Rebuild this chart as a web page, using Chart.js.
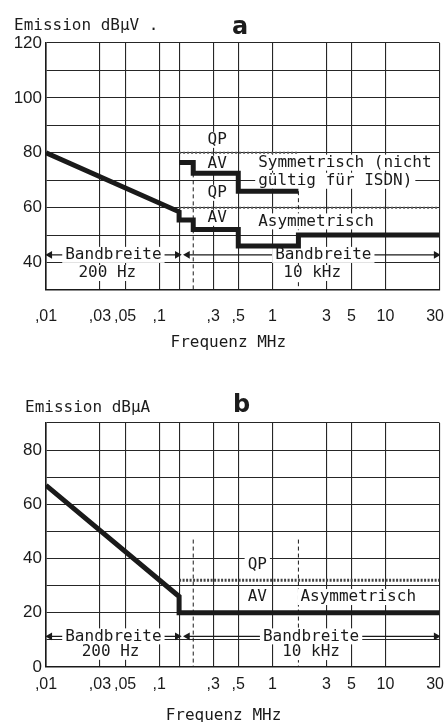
<!DOCTYPE html>
<html>
<head>
<meta charset="utf-8">
<script src="https://cdn.jsdelivr.net/npm/chart.js@4.4.0/dist/chart.umd.min.js"></script>
<style>
  body { margin: 0; width: 444px; height: 722px; overflow: hidden; background: #fff; position: relative; color: #1c1c1c; }
  .box { position: absolute; left: 0; width: 444px; }
  #boxA { top: 0; height: 360px; }
  #boxB { top: 360px; height: 370px; }
  .cap { position: absolute; font: 16px/20px "DejaVu Sans Mono", monospace; white-space: pre; }
  .big { position: absolute; font: bold 24px/26px "DejaVu Sans", sans-serif; }
</style>
</head>
<body>
<div class="box" id="boxA"><canvas id="chartA"></canvas></div>
<div class="box" id="boxB"><canvas id="chartB"></canvas></div>
<div class="cap" style="left:14px;top:15px">Emission dBµV .</div>
<div class="big" style="left:232px;top:13px">a</div>
<div class="cap" style="left:25px;top:397px">Emission dBµA</div>
<div class="big" style="left:233px;top:391px">b</div>
<script>
// Frequenzachse (MHz, logarithmisch)
const freqTicks  = [0.01, 0.03, 0.05, 0.1, 0.15, 0.3, 0.5, 1, 3, 5, 10, 30];
const freqLabels = [',01', ',03', ',05', ',1', '', ',3', ',5', '1', '3', '5', '10', '30  '];

// Bild a: Spannung dBµV
const aTicks = [30, 40, 50, 60, 70, 80, 90, 100, 110, 120];
const aAsymFreq = [0.01, 0.15, 0.15, 0.2, 0.2, 0.5, 0.5, 1.7, 1.7, 30];
const aAsymAV   = [80, 58.5, 55.5, 55.5, 52, 52, 46, 46, 50, 50];
const aSymFreq  = [0.15, 0.2, 0.2, 0.5, 0.5, 1.7];
const aSymAV    = [76.5, 76.5, 72.5, 72.5, 66, 66];
const aSymQPFreq  = [0.15, 1.7];
const aSymQP      = [80, 80];
const aAsymQPFreq = [0.15, 30];
const aAsymQP     = [60, 60];
const aMark1 = [72.5, 30];   // gestrichelt bei 0,2 MHz
const aMark2 = [66, 30];     // gestrichelt bei 1,7 MHz
const aBand  = 42.8;

// Bild b: Strom dBµA
const bTicks = [0, 10, 20, 30, 40, 50, 60, 70, 80, 90];
const bAsymFreq = [0.01, 0.15, 0.15, 30];
const bAsymAV   = [67, 26, 20, 20];
const bAsymQPFreq = [0.15, 30];
const bAsymQP     = [32, 32];
const bMark = [47, 0];
const bBand = 11.3;

const markFreq = [0.2, 1.7];
const bandLeft  = [0.0108, 0.1445];
const bandRight = [0.178, 28];

const aNotes = [
  { t: 'QP', x: 0.326, y: 84.7 },
  { t: 'AV', x: 0.326, y: 76 },
  { t: 'Symmetrisch (nicht', x: 0.75, y: 76.4, left: true },
  { t: 'gültig für ISDN)', x: 0.75, y: 69.8, left: true },
  { t: 'QP', x: 0.326, y: 65.4 },
  { t: 'AV', x: 0.326, y: 56.3 },
  { t: 'Asymmetrisch', x: 0.75, y: 55, left: true },
  { t: 'Bandbreite', x: 0.0394, y: aBand },
  { t: '200 Hz', x: 0.0348, y: 36.2 },
  { t: 'Bandbreite', x: 2.82, y: aBand },
  { t: '10 kHz', x: 2.25, y: 36.2 }
];
const bNotes = [
  { t: 'QP', x: 0.736, y: 37.6 },
  { t: 'AV', x: 0.736, y: 25.8 },
  { t: 'Asymmetrisch', x: 5.74, y: 25.8 },
  { t: 'Bandbreite', x: 0.0394, y: bBand },
  { t: '200 Hz', x: 0.0372, y: 5.6 },
  { t: 'Bandbreite', x: 2.2, y: bBand },
  { t: '10 kHz', x: 2.2, y: 5.5 }
];

const ink = '#1a1a1a';
const mono = '"DejaVu Sans Mono", monospace';

function pts(xs, ys) {
  return xs.map((x, i) => ({ x: x, y: ys[i] }));
}

function line(xs, ys, extra) {
  return Object.assign({
    data: pts(xs, ys),
    borderColor: ink, borderWidth: 1, pointRadius: 0, fill: false, tension: 0,
    borderJoinStyle: 'miter', borderCapStyle: 'butt', order: 1
  }, extra);
}

function arrow(xs, yv) {
  return line(xs, [yv, yv], {
    borderWidth: 1.2, pointRadius: 4.5, pointStyle: 'triangle',
    pointRotation: [-90, 90], pointBackgroundColor: ink, pointBorderWidth: 0
  });
}

// Beschriftungen mit weissem Hintergrund, über den dünnen Linien, unter den dicken
function notesPlugin(notes) {
  return {
    id: 'notes',
    beforeDatasetsDraw(chart) { chart.$notesDone = false; },
    beforeDatasetDraw(chart, args) {
      if (chart.$notesDone || !chart.data.datasets[args.index].thick) return;
      chart.$notesDone = true;
      const ctx = chart.ctx, x = chart.scales.x, y = chart.scales.y;
      ctx.save();
      ctx.font = '16px ' + mono;
      ctx.textBaseline = 'middle';
      const items = notes.map(n => {
        const w = ctx.measureText(n.t).width;
        const px = x.getPixelForValue(n.x);
        return { t: n.t, w: w, left: n.left ? px : px - w / 2, py: y.getPixelForValue(n.y) };
      });
      ctx.fillStyle = '#fff';
      items.forEach(it => ctx.fillRect(it.left - 3, it.py - 8, it.w + 6, 16));
      ctx.fillStyle = ink;
      items.forEach(it => ctx.fillText(it.t, it.left, it.py));
      ctx.restore();
    }
  };
}

function makeChart(id, o) {
  return new Chart(document.getElementById(id), {
    type: 'line',
    data: { datasets: o.datasets },
    plugins: [notesPlugin(o.notes)],
    options: {
      responsive: true,
      maintainAspectRatio: false,
      animation: false,
      events: [],
      layout: { padding: { top: o.padTop, right: 4, left: 0, bottom: 0 } },
      plugins: { legend: { display: false }, tooltip: { enabled: false } },
      scales: {
        x: {
          type: 'logarithmic', min: 0.01, max: 30,
          afterBuildTicks: s => { s.ticks = freqTicks.map(v => ({ value: v })); },
          afterFit: s => { s.height = o.xHeight; s.paddingLeft = 0; s.paddingRight = 0; },
          ticks: {
            autoSkip: false, maxRotation: 0, padding: o.tickPad, color: ink,
            font: { family: '"Liberation Sans", Arial, sans-serif', size: 16 },
            callback: (v, i) => freqLabels[i]
          },
          grid: { color: '#262626', lineWidth: 1.1, drawTicks: false },
          border: { color: ink, width: 1.6 },
          title: {
            display: true, text: o.xTitle, color: ink,
            font: { family: mono, size: 16 }, padding: { top: 0, bottom: o.titlePad }
          }
        },
        y: {
          min: o.yTicks[0], max: o.yTicks[o.yTicks.length - 1],
          afterBuildTicks: s => { s.ticks = o.yTicks.map(v => ({ value: v })); },
          afterFit: s => { s.width = 46; s.paddingTop = 0; s.paddingBottom = 0; },
          ticks: {
            padding: 4, color: ink,
            font: { family: '"Liberation Sans", Arial, sans-serif', size: 17 },
            callback: v => (v % 20 === 0 ? String(v) : '')
          },
          grid: { color: '#262626', lineWidth: 1.1, drawTicks: false },
          border: { color: ink, width: 1.6 }
        }
      }
    }
  });
}

makeChart('chartA', {
  padTop: 43, xHeight: 70, tickPad: 17, titlePad: 8,
  xTitle: 'Frequenz MHz   ',
  yTicks: aTicks,
  notes: aNotes,
  datasets: [
    line(aSymQPFreq, aSymQP, { borderWidth: 2, borderDash: [2, 2], borderColor: '#555' }),
    line(aAsymQPFreq, aAsymQP, { borderWidth: 2, borderDash: [2, 2], borderColor: '#555' }),
    line([markFreq[0], markFreq[0]], aMark1, { borderDash: [4, 3] }),
    line([markFreq[1], markFreq[1]], aMark2, { borderDash: [4, 3] }),
    arrow(bandLeft, aBand),
    arrow(bandRight, aBand),
    line(aSymFreq, aSymAV, { borderWidth: 5, order: 0, thick: true }),
    line(aAsymFreq, aAsymAV, { borderWidth: 5, order: 0, thick: true })
  ]
});

makeChart('chartB', {
  padTop: 63, xHeight: 63, tickPad: 8, titlePad: 5,
  xTitle: 'Frequenz MHz    ',
  yTicks: bTicks,
  notes: bNotes,
  datasets: [
    line(bAsymQPFreq, bAsymQP, { borderWidth: 3, borderDash: [2, 1.5], borderColor: '#444' }),
    line([markFreq[0], markFreq[0]], bMark, { borderDash: [4, 3] }),
    line([markFreq[1], markFreq[1]], bMark, { borderDash: [4, 3] }),
    arrow(bandLeft, bBand),
    arrow(bandRight, bBand),
    line(bAsymFreq, bAsymAV, { borderWidth: 5, order: 0, thick: true })
  ]
});
</script>
</body>
</html>
